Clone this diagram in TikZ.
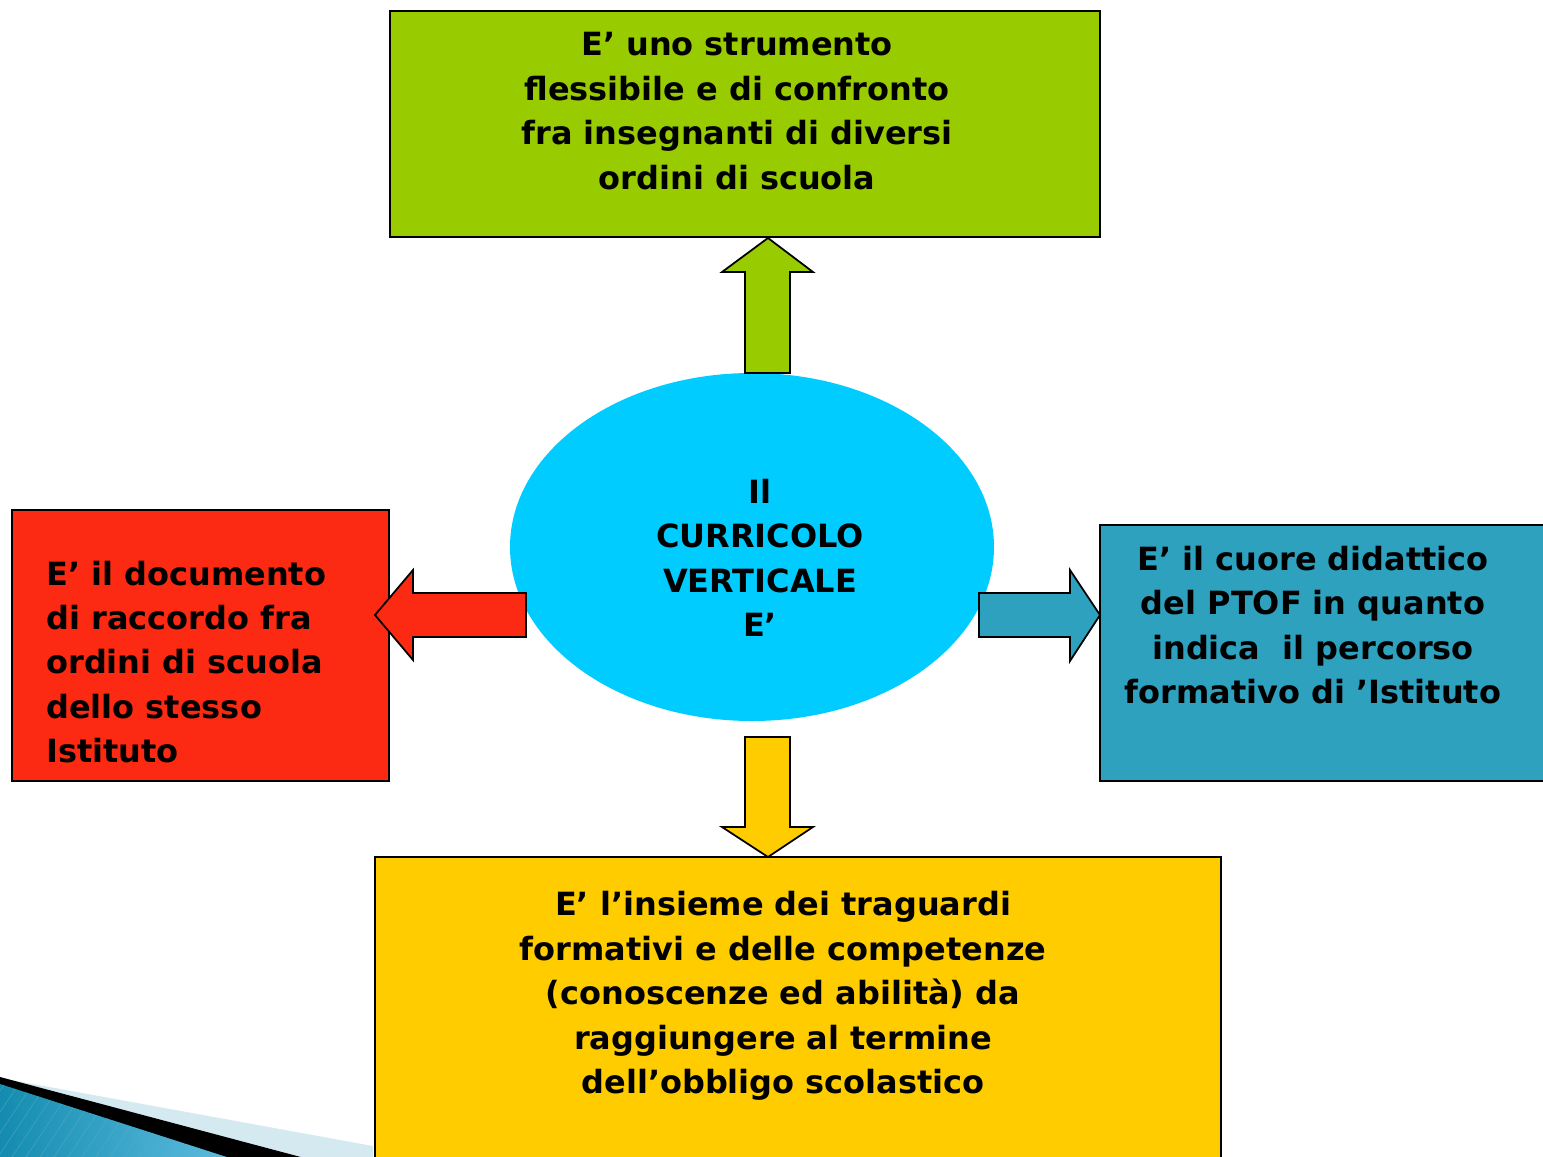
\documentclass[tikz,border=0pt]{standalone}
\usepackage{fontspec}
\setmainfont{DejaVu Sans}
\definecolor{cgreen}{HTML}{99CC00}
\definecolor{cred}{HTML}{FC2A13}
\definecolor{cblue}{HTML}{2EA1BF}
\definecolor{cyellow}{HTML}{FFCC00}
\definecolor{ccyan}{HTML}{00CCFF}
\definecolor{cpale}{HTML}{D5E9F1}
\definecolor{cdeco1}{HTML}{148CAF}
\definecolor{cdeco2}{HTML}{5FBEE1}
\begin{document}
\begin{tikzpicture}[x=0.02cm,y=-0.02cm,
  box/.style={draw=black,line width=0.8pt},
  arr/.style={draw=black,line width=1pt,line join=miter},
  txt/.style={font=\fontsize{18.2}{25.3}\selectfont\bfseries,align=center,inner sep=0pt}]
\useasboundingbox (0,0) rectangle (1543,1157);
% decoration bottom left
\fill[cpale] (0,1078) -- (373,1146) -- (373,1160) -- (0,1160) -- cycle;
\fill[black] (0,1077) -- (312,1160) -- (0,1160) -- cycle;
\shade[left color=cdeco1,right color=cdeco2] (0,1084) -- (236,1160) -- (0,1160) -- cycle;
\begin{scope}
\clip (0,1084) -- (236,1160) -- (0,1160) -- cycle;
\foreach \i in {0,14,...,280}{\draw[cdeco1!70!white,line width=0.4pt,opacity=0.5] (\i-60,1160) -- (\i,1070);}
\end{scope}
% boxes
\draw[box,fill=cgreen] (390,11) rectangle (1100,237);
\draw[box,fill=cred] (12,510) rectangle (389,781);
\draw[box,fill=cblue] (1100,525) rectangle (1560,781);
\draw[box,fill=cyellow] (375,857) rectangle (1221,1170);
% ellipse
\fill[ccyan] (752,547) ellipse [x radius=242, y radius=174];
% arrows
\draw[arr,fill=cgreen] (745,373) -- (745,272) -- (722,272) -- (768,238) -- (813,272) -- (790,272) -- (790,373) -- cycle;
\draw[arr,fill=cred] (526,593) -- (413,593) -- (413,570) -- (375,615) -- (413,660) -- (413,637) -- (526,637) -- cycle;
\draw[arr,fill=cblue] (979,593) -- (1070,593) -- (1070,570) -- (1100,615) -- (1070,661) -- (1070,637) -- (979,637) -- cycle;
\draw[arr,fill=cyellow] (745,737) -- (790,737) -- (790,827) -- (813,827) -- (768,857) -- (722,827) -- (745,827) -- cycle;
% texts
\node[txt] (top) at (737,111) {E’ uno strumento\\flessibile e di confronto\\fra insegnanti di diversi\\ordini di scuola};
\node[txt,align=left,anchor=west] (left) at (46,662) {E’ il documento\\di raccordo fra\\ordini di scuola\\dello stesso\\Istituto};
\node[txt] (right) at (1313,625) {E’ il cuore didattico\\del PTOF in quanto\\indica\ \ il percorso\\formativo di ’Istituto};
\node[txt] (bottom) at (783,996) {E’ l’insieme dei traguardi\\formativi e delle competenze\\(conoscenze ed abilità) da\\raggiungere al termine\\dell’obbligo scolastico};
\node[txt] (center) at (760,558) {Il\\CURRICOLO\\VERTICALE\\E’};
\end{tikzpicture}
\end{document}
